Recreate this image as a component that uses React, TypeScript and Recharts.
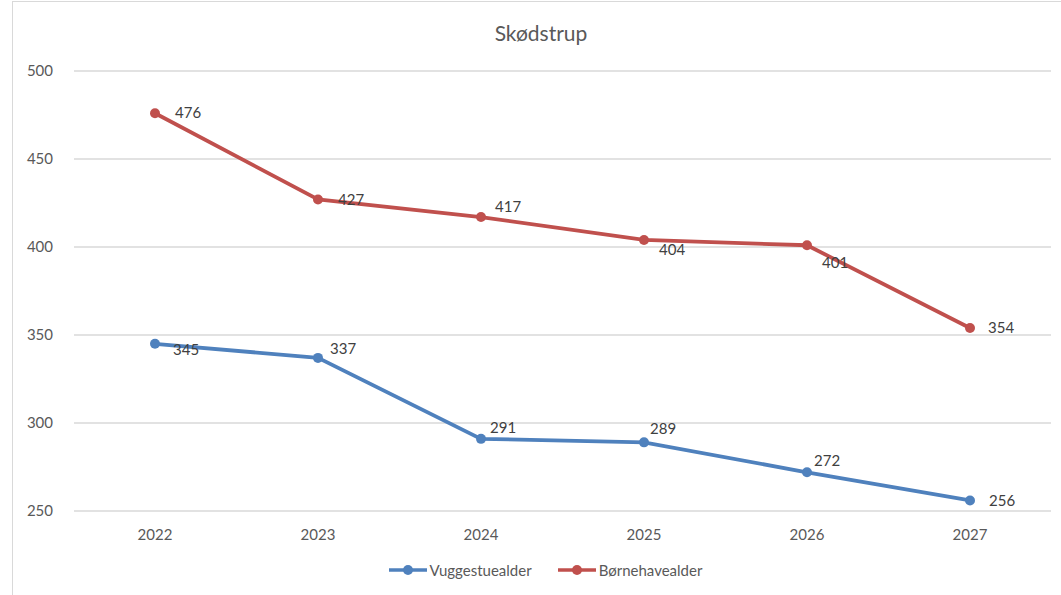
import React from "react";
import {
  LineChart,
  Line,
  XAxis,
  YAxis,
  CartesianGrid,
  Legend,
  LabelList,
} from "recharts";

const years = ["2022", "2023", "2024", "2025", "2026", "2027"];
const vuggestue = [345, 337, 291, 289, 272, 256];
const boernehave = [476, 427, 417, 404, 401, 354];
const yTicks = [250, 300, 350, 400, 450, 500];

// where each value label sits relative to its point [dx, dy]
const blueLabelPos = [
  [18, 6],
  [12, -9],
  [9, -11],
  [6, -14],
  [7, -12],
  [19, 0],
];
const redLabelPos = [
  [20, 0],
  [20, 0],
  [14, -10],
  [15, 10],
  [15, 18],
  [18, 0],
];

const data = years.map((y, i) => ({
  year: y,
  Vuggestuealder: vuggestue[i],
  Børnehavealder: boernehave[i],
}));

const BLUE = "#4f81bd";
const RED = "#c0504d";
const FONT = "Lato, 'Open Sans', sans-serif";

const makeLabel = (pos: number[][]) => (props: any) => {
  const { x, y, value, index } = props;
  const [dx, dy] = pos[index] || [15, 0];
  return (
    <text
      x={x + dx}
      y={y + dy}
      dy="0.35em"
      fill="#404040"
      fontSize={15}
      fontFamily={FONT}
    >
      {value}
    </text>
  );
};

const LegendContent = () => {
  const items = [
    { name: "Vuggestuealder", color: BLUE },
    { name: "Børnehavealder", color: RED },
  ];
  return (
    <div
      style={{
        display: "flex",
        justifyContent: "center",
        gap: 26,
        paddingLeft: 40,
        fontFamily: FONT,
        fontSize: 15,
        color: "#595959",
        height: 24,
        alignItems: "center",
      }}
    >
      {items.map((it) => (
        <div key={it.name} style={{ display: "flex", alignItems: "center" }}>
          <svg width={38} height={12} style={{ marginRight: 3 }}>
            <line x1={0} y1={6} x2={38} y2={6} stroke={it.color} strokeWidth={3.5} />
            <circle cx={19} cy={6} r={5} fill={it.color} />
          </svg>
          <span>{it.name}</span>
        </div>
      ))}
    </div>
  );
};

export default function App() {
  return (
    <div style={{ position: "absolute", left: 0, top: 0, width: 1061, height: 595, background: "#fff" }}>
      <div
        style={{
          position: "absolute",
          left: 12,
          top: 1,
          width: 1070,
          height: 610,
          border: "1px solid #d9d9d9",
          boxSizing: "border-box",
        }}
      />
      <div
        style={{
          position: "absolute",
          left: 0,
          width: 1082,
          top: 20,
          textAlign: "center",
          fontFamily: FONT,
          fontSize: 21,
          color: "#595959",
        }}
      >
        Skødstrup
      </div>
      <div style={{ position: "absolute", left: 0, top: 0 }}>
        <LineChart
          width={1061}
          height={595}
          data={data}
          margin={{ top: 71, right: 10, left: 0, bottom: 13 }}
        >
          <CartesianGrid vertical={false} stroke="#d9d9d9" strokeWidth={1.3} />
          <XAxis
            dataKey="year"
            axisLine={false}
            tickLine={false}
            tickSize={0}
            tickMargin={18}
            height={47}
            padding={{ left: 81, right: 81 }}
            tick={{ fill: "#595959", fontSize: 15, fontFamily: FONT }}
          />
          <YAxis
            domain={[250, 500]}
            ticks={yTicks}
            axisLine={false}
            tickLine={false}
            tickSize={0}
            tickMargin={21}
            width={74}
            tick={{ fill: "#595959", fontSize: 15, fontFamily: FONT }}
          />
          <Legend verticalAlign="bottom" height={24} content={<LegendContent />} />
          <Line
            dataKey="Vuggestuealder"
            stroke={BLUE}
            strokeWidth={3.8}
            dot={{ r: 5, fill: BLUE, stroke: BLUE, strokeWidth: 0 }}
            isAnimationActive={false}
          >
            <LabelList dataKey="Vuggestuealder" content={makeLabel(blueLabelPos)} />
          </Line>
          <Line
            dataKey="Børnehavealder"
            stroke={RED}
            strokeWidth={3.8}
            dot={{ r: 5, fill: RED, stroke: RED, strokeWidth: 0 }}
            isAnimationActive={false}
          >
            <LabelList dataKey="Børnehavealder" content={makeLabel(redLabelPos)} />
          </Line>
        </LineChart>
      </div>
    </div>
  );
}
